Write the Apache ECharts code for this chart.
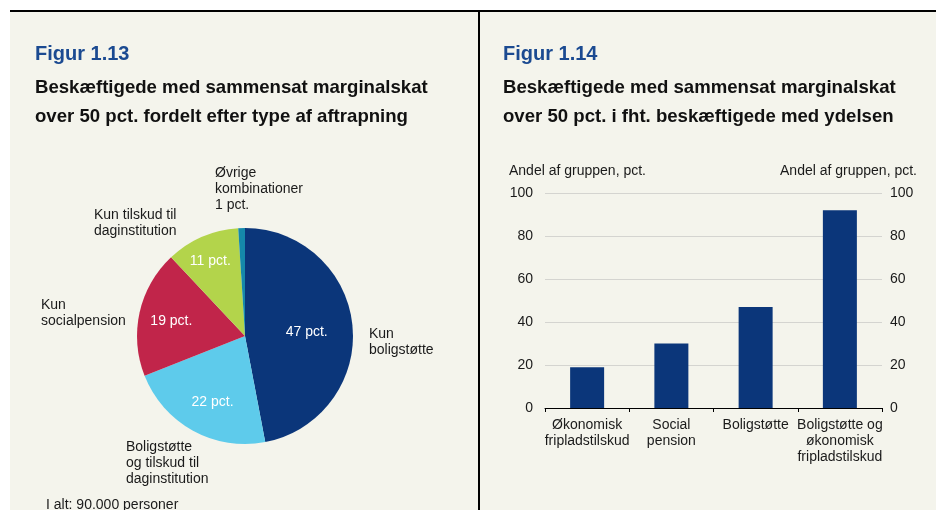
<!DOCTYPE html>
<html>
<head>
<meta charset="utf-8">
<script src="https://cdn.jsdelivr.net/npm/echarts@6/dist/echarts.min.js"></script>
<style>
  html, body { margin: 0; padding: 0; background: #fff; }
  #chart { width: 936px; height: 510px; }
</style>
</head>
<body>
<div id="chart"></div>
<script>
// data - figur 1.13 (pie)
var pieNames = ['Kun\nboligstøtte', 'Boligstøtte\nog tilskud til\ndaginstitution', 'Kun\nsocialpension', 'Kun tilskud til\ndaginstitution', 'Øvrige\nkombinationer'];
var pieValues = [47, 22, 19, 11, 1];
var pieColors = ['#0b367a', '#5ecbeb', '#c1254a', '#b3d44b', '#1589aa'];
// data - figur 1.14 (bars)
var barCats = ['Økonomisk\nfripladstilskud', 'Social\npension', 'Boligstøtte', 'Boligstøtte og\nøkonomisk\nfripladstilskud'];
var barValues = [19, 30, 47, 92];
var yTicks = [0, 20, 40, 60, 80, 100];

var font = 'Liberation Sans, Arial, sans-serif';
var bg = '#f4f4ec';

// where the outer pie labels sit (styling only)
var outerLabelPos = [[369, 326], [126, 439], [41, 297], [94, 207], [215, 165]];
// small nudges for the inside percentage labels
var innerNudge = [[5, 2], [-5, 16], [-18, -2], [-12, -23], [0, 0]];

var myChart = echarts.init(document.getElementById('chart'));

var graphics = [
    { type: 'rect', z: -10, shape: { x: 10, y: 10, width: 926, height: 500 }, style: { fill: bg } },
    { type: 'rect', shape: { x: 10, y: 10, width: 926, height: 2 }, style: { fill: '#000' } },
    { type: 'rect', shape: { x: 478, y: 10, width: 2, height: 500 }, style: { fill: '#000' } }
];
pieNames.forEach(function (n, i) {
    var txt = n;
    if (i === pieNames.length - 1) txt = n + '\n' + pieValues[i] + ' pct.';
    graphics.push({
        type: 'text', x: outerLabelPos[i][0], y: outerLabelPos[i][1],
        style: { text: txt, font: '14px ' + font, lineHeight: 16, fill: '#1a1a1a', verticalAlign: 'top' }
    });
});
graphics.push({
    type: 'text', x: 46, y: 497,
    style: { text: 'I alt: 90.000 personer', font: '14px ' + font, lineHeight: 16, fill: '#1a1a1a', verticalAlign: 'top' }
});

var option = {
    backgroundColor: '#fff',
    animation: false,
    textStyle: { fontFamily: font },
    title: [
        { text: 'Figur 1.13', left: 35, top: 44, padding: 0, textStyle: { fontSize: 20, fontWeight: 'bold', color: '#1b4a91', fontFamily: font } },
        { text: 'Beskæftigede med sammensat marginalskat\nover 50 pct. fordelt efter type af aftrapning', left: 35, top: 73, padding: 0,
          textStyle: { fontSize: 18.6, fontWeight: 'bold', color: '#111', lineHeight: 29, fontFamily: font } },
        { text: 'Figur 1.14', left: 503, top: 44, padding: 0, textStyle: { fontSize: 20, fontWeight: 'bold', color: '#1b4a91', fontFamily: font } },
        { text: 'Beskæftigede med sammensat marginalskat\nover 50 pct. i fht. beskæftigede med ydelsen', left: 503, top: 73, padding: 0,
          textStyle: { fontSize: 18.6, fontWeight: 'bold', color: '#111', lineHeight: 29, fontFamily: font } }
    ],
    graphic: graphics,
    grid: { left: 545, right: 54, top: 193, bottom: 102 },
    xAxis: {
        type: 'category',
        data: barCats,
        axisLine: { lineStyle: { color: '#000', width: 1 } },
        axisTick: { show: true, length: 4, lineStyle: { color: '#000' } },
        axisLabel: { interval: 0, margin: 9, fontSize: 14, lineHeight: 16, color: '#1a1a1a', fontFamily: font }
    },
    yAxis: [
        {
            type: 'value', min: 0, max: 100, interval: 20,
            name: 'Andel af gruppen, pct.', nameLocation: 'end', nameGap: 15,
            nameTextStyle: { fontSize: 14, color: '#1a1a1a', align: 'left', padding: [0, 0, 0, -36], fontFamily: font },
            axisLine: { show: false }, axisTick: { show: false },
            axisLabel: { margin: 12, fontSize: 14, color: '#1a1a1a', fontFamily: font },
            splitLine: { lineStyle: { color: '#d4d4d0', width: 1 } }
        },
        {
            type: 'value', min: 0, max: 100, interval: 20, position: 'right',
            name: 'Andel af gruppen, pct.', nameLocation: 'end', nameGap: 15,
            nameTextStyle: { fontSize: 14, color: '#1a1a1a', align: 'right', padding: [0, -35, 0, 0], fontFamily: font },
            axisLine: { show: false }, axisTick: { show: false },
            axisLabel: { margin: 8, fontSize: 14, color: '#1a1a1a', fontFamily: font },
            splitLine: { show: false }
        }
    ],
    series: [
        {
            type: 'pie',
            center: [245, 336],
            radius: 108,
            startAngle: 90,
            clockwise: true,
            silent: true,
            data: pieValues.map(function (v, i) {
                return {
                    value: v, name: pieNames[i],
                    itemStyle: { color: pieColors[i] },
                    label: { show: i < 4 }
                };
            }),
            label: {
                position: 'inside',
                formatter: '{c} pct.',
                color: '#fff', fontSize: 14, fontFamily: font
            },
            labelLine: { show: false },
            labelLayout: function (p) {
                return { dx: innerNudge[p.dataIndex][0], dy: innerNudge[p.dataIndex][1] };
            }
        },
        {
            type: 'bar',
            data: barValues,
            barWidth: 34,
            itemStyle: { color: '#0b367a' },
            silent: true
        }
    ]
};
myChart.setOption(option);
</script>
</body>
</html>
